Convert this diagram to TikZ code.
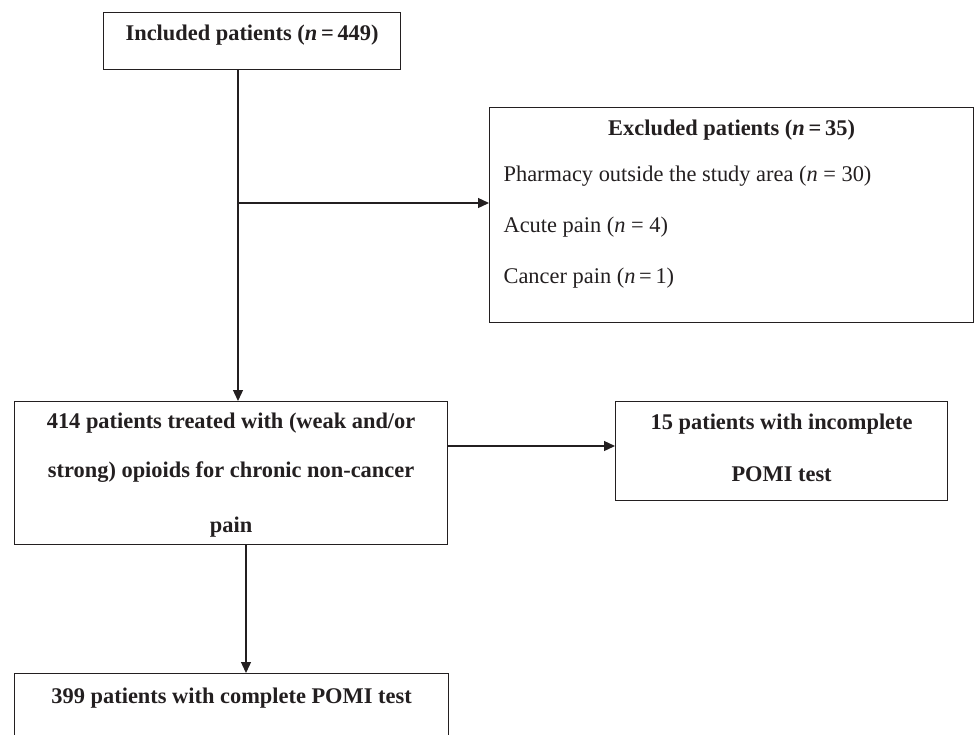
\documentclass[tikz,border=0pt]{standalone}
\usepackage{fontspec}
\setmainfont{Liberation Serif}
\usetikzlibrary{arrows.meta,positioning}
\definecolor{boxline}{HTML}{231F20}

\begin{document}
\begin{tikzpicture}[x=1pt, y=-1pt,
    box/.style={draw=boxline, line width=1.2pt, anchor=north west, inner xsep=0pt, inner ysep=12pt,
                align=center, text=boxline, font=\fontsize{22.4}{49}\selectfont\bfseries},
    arrow/.style={-{Triangle[length=11pt, width=10pt]}, line width=1.3pt, draw=boxline},
    link/.style={line width=1.3pt, draw=boxline}
]
\useasboundingbox (0,0) rectangle (974,734);

% --- nodes ---
\node[box, minimum width=297pt, text height=16pt, text depth=17pt] (incl) at (103,12)
    {Included patients (\textit{n}\,=\,449)};

\node[box, inner xsep=14pt, align=left, text height=164pt, text depth=27pt,
      font=\fontsize{22.4}{51}\selectfont] (excl) at (489,107)
    {\makebox[456pt][c]{\bfseries Excluded patients (\textit{n}\,=\,35)}\\[-5pt]
     Pharmacy outside the study area (\textit{n} = 30)\\
     Acute pain (\textit{n} = 4)\\
     Cancer pain (\textit{n}\,=\,1)};

\node[box, minimum width=433pt, text height=119pt, text depth=0pt] (treat) at (14,401)
    {414 patients treated with (weak and/or\\ strong) opioids for chronic non-cancer\\[6pt] pain};

\node[box, minimum width=332pt, text height=68pt, text depth=7pt,
      font=\fontsize{22.4}{52}\selectfont\bfseries] (incompl) at (615,401)
    {15 patients with incomplete\\ POMI test};

\node[box, minimum width=434pt, text height=18pt, text depth=40pt] (compl) at (14,673)
    {399 patients with complete POMI test};

% --- arrows ---
\coordinate (split) at (238,203);
\coordinate (side) at (530,446);
\coordinate (drop) at (246,600);

\draw[link] (incl.south -| split) -- (split);
\draw[arrow] (split) -- (treat.north -| split);
\draw[arrow] (split) -- (excl.west |- split);
\draw[arrow] (treat.east |- side) -- (incompl.west |- side);
\draw[arrow] (treat.south -| drop) -- (compl.north -| drop);

\end{tikzpicture}
\end{document}
